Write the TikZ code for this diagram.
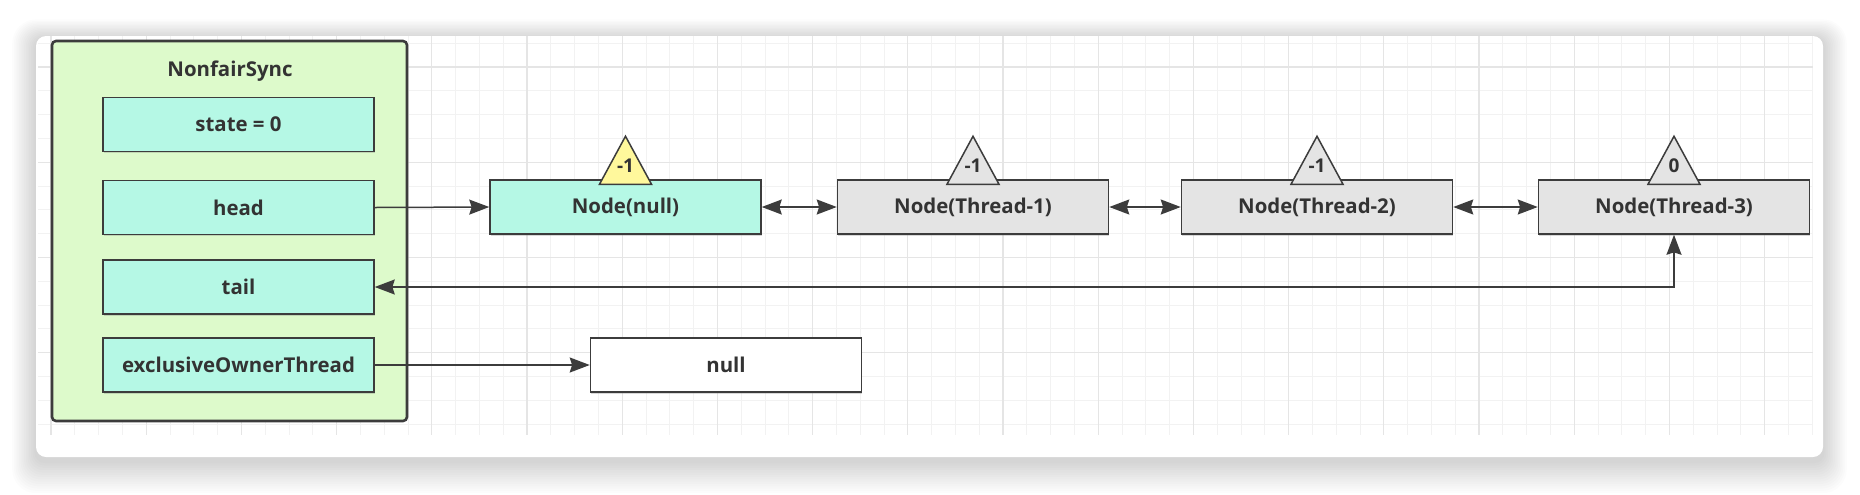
\documentclass[tikz,border=0pt]{standalone}
\usepackage{fontspec}
\setmainfont{Open Sans}
\usetikzlibrary{arrows.meta,calc,shadows}
\definecolor{gridminor}{HTML}{F2F2F2}
\definecolor{gridmajor}{HTML}{E5E5E5}
\definecolor{syncgreen}{HTML}{DDFACB}
\definecolor{fieldcyan}{HTML}{B5F8E5}
\definecolor{nodegray}{HTML}{E4E4E4}
\definecolor{waityellow}{HTML}{FFF89C}
\definecolor{edge}{HTML}{3C3C3C}
\definecolor{ink}{HTML}{333333}
\begin{document}
\begin{tikzpicture}[x=0.5pt,y=-0.5pt,
    field/.style={draw=edge,line width=0.75pt,fill=fieldcyan,minimum width=135.5pt,minimum height=27pt,inner sep=0pt,
      font=\bfseries\fontsize{10.2}{12}\selectfont,text=ink,
      drop shadow={shadow xshift=0.3pt,shadow yshift=-0.8pt,opacity=0.3}},
    qnode/.style={field,fill=nodegray},
    link/.style={draw=edge,line width=0.75pt,-{Stealth[length=10pt,width=7.5pt,inset=1.2pt]}},
    dlink/.style={draw=edge,line width=0.75pt,{Stealth[length=10pt,width=7.5pt,inset=1.2pt]}-{Stealth[length=10pt,width=7.5pt,inset=1.2pt]}}]
    \useasboundingbox (0,0) rectangle (1860,494);
    \fill[white] (0,0) rectangle (1860,494);

    % card and grid
    \foreach \k in {1,...,14}
      \fill[black,opacity=0.012,rounded corners={5pt+0.5pt*\k}] ({36-1.7*\k},{39-1.4*\k}) rectangle ({1823+1.7*\k},{461+2.3*\k});
    \fill[white,rounded corners=5pt] (36,36) rectangle (1823,457);
    \foreach \j in {0,...,16}
      \draw[gridminor,line width=0.5pt] (38,{43.2+23.8*\j}) -- (1813,{43.2+23.8*\j});
    \foreach \i in {0,...,74}
      \draw[gridminor,line width=0.5pt] ({51+23.8*\i},36) -- ({51+23.8*\i},435);
    \foreach \j in {1,5,9,13}
      \draw[gridmajor,line width=0.6pt] (38,{43.2+23.8*\j}) -- (1813,{43.2+23.8*\j});
    \foreach \i in {0,4,...,72}
      \draw[gridmajor,line width=0.6pt] ({51+23.8*\i},36) -- ({51+23.8*\i},435);

    % NonfairSync
    \node[draw=edge,line width=1.3pt,fill=syncgreen,rounded corners=2pt,minimum width=177.5pt,minimum height=190pt] (sync) at (229.5,231) {};
    \node[font=\bfseries\fontsize{10.2}{12}\selectfont,text=ink] (title) at (230,71) {NonfairSync};
    \node[field] (state) at (238.5,124.5) {state = 0};
    \node[field] (head) at (238.5,207.5) {head};
    \node[field] (tail) at (238.5,287) {tail};
    \node[field] (owner) at (238.5,365) {exclusiveOwnerThread};

    % queue
    \node[field] (n0) at (625.5,207) {Node(null)};
    \node[qnode] (n1) at (973,207) {Node(Thread-1)};
    \node[qnode] (n2) at (1317,207) {Node(Thread-2)};
    \node[qnode] (n3) at (1674,207) {Node(Thread-3)};
    \node[field,fill=white] (null) at (726,365) {null};

    \foreach \n/\v/\c in {n0/-1/waityellow,n1/-1/nodegray,n2/-1/nodegray,n3/0/nodegray}{
      \draw[fill=\c,draw=edge,line width=0.75pt,line join=miter] ($(\n.north)+(-26,5)$) -- ($(\n.north)+(0,-43)$) -- ($(\n.north)+(26,5)$) -- cycle;
      \node[font=\bfseries\fontsize{9.5}{11}\selectfont,text=ink,inner sep=0pt] (w\n) at ($(\n.north)+(0,-14)$) {\v};
    }

    \draw[link] (head.east) -- (n0.west);
    \draw[dlink] (n0) -- (n1);
    \draw[dlink] (n1) -- (n2);
    \draw[dlink] (n2) -- (n3);
    \draw[dlink] (tail.east) -| (n3.south);
    \draw[link] (owner.east) -- (null.west);

  \end{tikzpicture}
\end{document}
